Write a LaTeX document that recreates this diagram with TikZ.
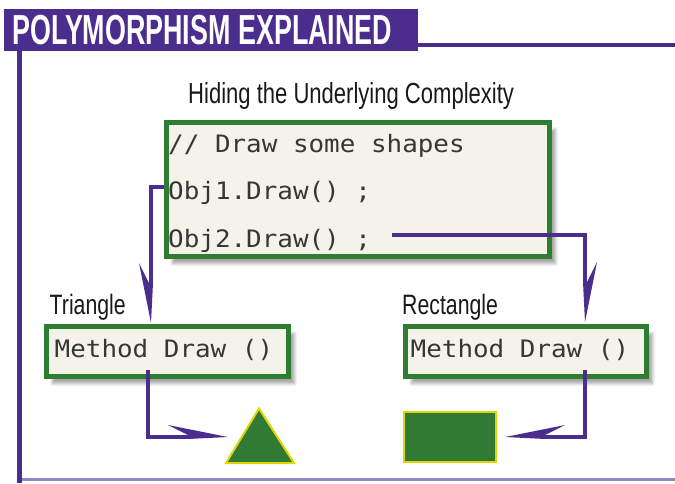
\documentclass[tikz,border=0pt]{standalone}
\usepackage{fontspec}
\usetikzlibrary{calc,shadows.blur}
\newfontfamily\condf[FakeStretch=0.76]{Liberation Sans}
\newfontfamily\condb[FakeStretch=0.64]{Liberation Sans}
\newfontfamily\codef[FakeStretch=1.08]{DejaVu Sans Mono}
\definecolor{pur}{HTML}{4B2D8E}
\definecolor{lav}{HTML}{9088C4}
\definecolor{grn}{HTML}{2F7D32}
\definecolor{shp}{HTML}{317A34}
\definecolor{yel}{HTML}{E2D400}
\definecolor{beige}{HTML}{F4F3EA}
\definecolor{codegray}{HTML}{363636}
\newcommand\harpoonhead[3]{\fill[pur] ($(#1)-40*(#2)-2*(#3)$) -- ($(#1)-40*(#2)+2*(#3)$) -- ($(#1)-60*(#2)+12*(#3)$) -- (#1) -- cycle;}
\begin{document}
\begin{tikzpicture}[x=1pt,y=-1pt,
  box/.style={draw=grn, line width=5pt, fill=beige, inner sep=0pt,
    blur shadow={shadow xshift=6pt, shadow yshift=-7pt, shadow opacity=35, shadow blur radius=3pt}},
  codetext/.style={anchor=base west, inner sep=0pt, text=codegray, font=\codef\fontsize{24}{24}\selectfont},
  lab/.style={anchor=base west, inner sep=0pt, text=black!90, font=\condf\fontsize{28}{28}\selectfont},
  conn/.style={draw=pur, line width=4pt, line join=miter},
  shapefig/.style={fill=shp, draw=yel, line width=2pt, line join=miter}]
\useasboundingbox (0,0) rectangle (675,483);
% frame
\fill[pur] (4,9) rectangle (418,51);
\node[anchor=base west, inner sep=0pt, text=white, font=\condb\bfseries\fontsize{42}{42}\selectfont] (title) at (12,44) {POLYMORPHISM EXPLAINED};
\draw[pur, line width=4pt] (418,45) -- (675,45);
\draw[pur, line width=5pt] (19.5,51) -- (19.5,483);
\draw[lav, line width=2.5pt] (22,479.5) -- (675,479.5);
% heading
\node[lab, font=\condf\fontsize{29}{29}\selectfont] (head) at (188,103) {Hiding the Underlying Complexity};
% code box
\node[box, minimum width=383pt, minimum height=134pt] (code) at (358,189.5) {};
\node[codetext] (l1) at (168,152) {// Draw some shapes};
\node[codetext] (l2) at (168,199) {Obj1.Draw() ;};
\node[codetext] (l3) at (168,247) {Obj2.Draw() ;};
% labels
\node[lab] (tlab) at (49.5,314) {Triangle};
\node[lab] (rlab) at (402,314) {Rectangle};
% method boxes
\node[box, minimum width=242pt, minimum height=50pt] (tribox) at (167.5,351.5) {};
\node[box, minimum width=241pt, minimum height=50pt] (recbox) at (526,351.5) {};
\node[codetext] (m1) at (54.5,357) {Method Draw ()};
\node[codetext] (m2) at (410.5,357) {Method Draw ()};
% shapes
\draw[shapefig] (259,408.5) -- (294,463) -- (226,463) -- cycle;
\draw[shapefig] (404,412) rectangle (496,462);
% connector coordinates
\coordinate (sa) at (164,187);
\coordinate (ta) at (151,323);
\coordinate (sb) at (392,235);
\coordinate (tb) at (585,322);
\coordinate (sc) at (148,370);
\coordinate (tc) at (228,437);
\coordinate (sd) at (585,370);
\coordinate (td) at (505,437);
% connectors
\draw[conn] (sa) -- (sa -| ta) -- ($(ta)-(0,40)$);
\harpoonhead{ta}{0,1}{-1,0}
\draw[conn] (sb) -- (sb -| tb) -- ($(tb)-(0,40)$);
\harpoonhead{tb}{0,1}{1,0}
\draw[conn] (sc) -- (sc |- tc) -- ($(tc)-(40,0)$);
\harpoonhead{tc}{1,0}{0,-1}
\draw[conn] (sd) -- (sd |- td) -- ($(td)+(40,0)$);
\harpoonhead{td}{-1,0}{0,-1}
\end{tikzpicture}
\end{document}
